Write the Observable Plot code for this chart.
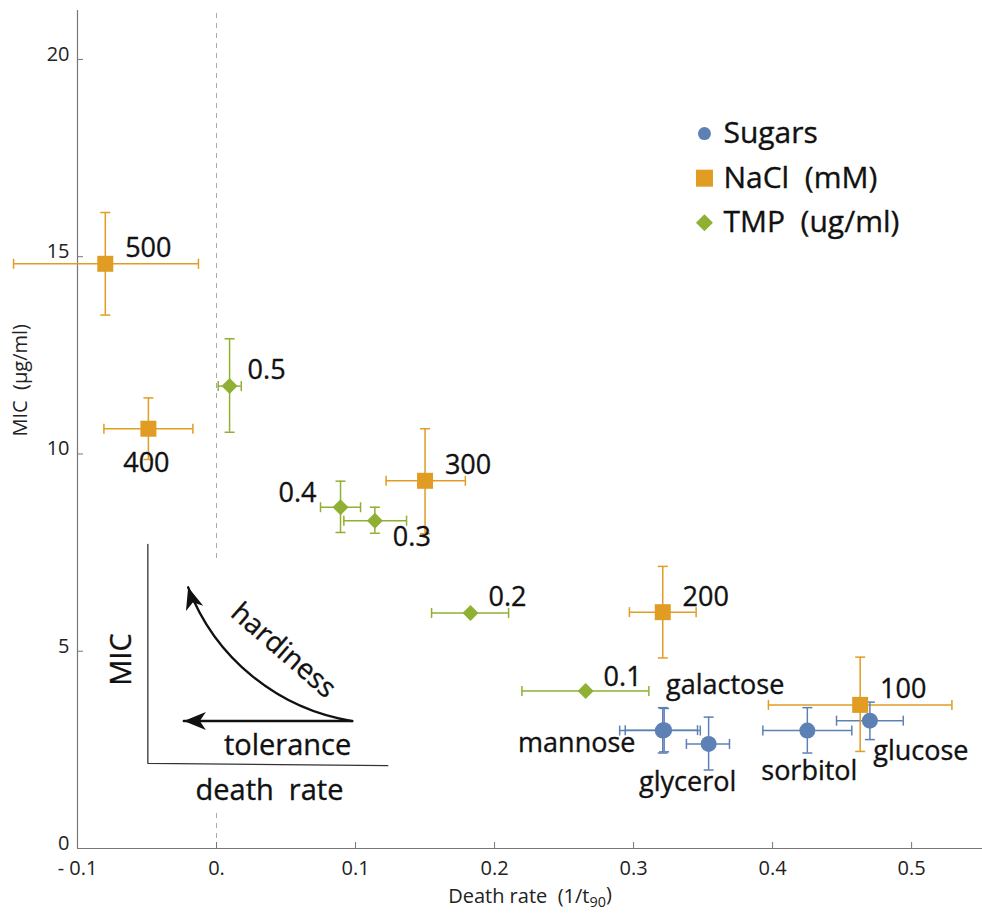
<!DOCTYPE html>
<html><head><meta charset="utf-8">
<script src="https://cdn.jsdelivr.net/npm/d3@7"></script>
<script src="https://cdn.jsdelivr.net/npm/@observablehq/plot@0.6"></script>
<style>
html,body{margin:0;padding:0;background:#fff;}
#chart svg{font-family:"Open Sans",sans-serif;}
</style></head><body><div id="chart"></div>
<script>
// ---------- data ----------
const seriesNames = ["Sugars", "NaCl\u00a0 (mM)", "TMP\u00a0 (ug/ml)"];
const seriesColors = ["#5E81B5", "#E19C24", "#8FB032"];

const sugarLabels = ["mannose", "galactose", "glycerol", "sorbitol", "glucose"];
const sugarRate   = [0.321, 0.322, 0.354, 0.425, 0.470];
const sugarMIC    = [2.99, 3.00, 2.65, 2.99, 3.24];
const sugarRateLo = [0.290, 0.294, 0.338, 0.393, 0.446];
const sugarRateHi = [0.348, 0.346, 0.369, 0.457, 0.494];
const sugarMICLo  = [2.42, 2.45, 1.99, 2.42, 2.76];
const sugarMICHi  = [3.57, 3.55, 3.33, 3.57, 3.71];

const naclLabels = ["500", "400", "300", "200", "100"];
const naclRate   = [-0.080, -0.049, 0.150, 0.321, 0.463];
const naclMIC    = [14.82, 10.64, 9.32, 5.99, 3.64];
const naclRateLo = [-0.146, -0.081, 0.122, 0.297, 0.397];
const naclRateHi = [-0.013, -0.017, 0.179, 0.345, 0.529];
const naclMICLo  = [13.52, 9.86, 7.98, 4.83, 2.46];
const naclMICHi  = [16.12, 11.42, 10.64, 7.15, 4.85];

const tmpLabels = ["0.5", "0.4", "0.3", "0.2", "0.1"];
const tmpRate   = [0.0094, 0.0892, 0.1139, 0.1827, 0.2655];
const tmpMIC    = [11.72, 8.65, 8.31, 5.97, 3.99];
const tmpRateLo = [0.0012, 0.0748, 0.0916, 0.1547, 0.2197];
const tmpRateHi = [0.0178, 0.1036, 0.1367, 0.2101, 0.311];
const tmpMICLo  = [10.55, 8.01, 7.99, 5.97, 3.99];
const tmpMICHi  = [12.92, 9.31, 8.65, 5.97, 3.99];

const xTicks = [-0.1, 0, 0.1, 0.2, 0.3, 0.4, 0.5];
const xTickLabels = ["- 0.1", "0.", "0.1", "0.2", "0.3", "0.4", "0.5"];
const yTicks = [0, 5, 10, 15, 20];
const yTickLabels = ["0", "5", "10", "15", "20"];

// ---------- layout / styling ----------
const W = 982, H = 917;
const mL = 77, mR = 0, mT = 10, mB = 69;
const xDomain = [-0.1, 0.551];
const yDomain = [0, 21.24];
const pxX = (xDomain[1] - xDomain[0]) / (W - mL - mR);
const pxY = (yDomain[1] - yDomain[0]) / (H - mT - mB);
const axisColor = "#777";
const ink = "#111";
const bold = {stroke: ink, strokeWidth: 0.35};

function rows(series, labels, rate, mic, rlo, rhi, mlo, mhi) {
  return labels.map((label, i) => ({series, label, x: rate[i], y: mic[i], xlo: rlo[i], xhi: rhi[i], ylo: mlo[i], yhi: mhi[i]}));
}
const data = [
  ...rows(seriesNames[0], sugarLabels, sugarRate, sugarMIC, sugarRateLo, sugarRateHi, sugarMICLo, sugarMICHi),
  ...rows(seriesNames[1], naclLabels, naclRate, naclMIC, naclRateLo, naclRateHi, naclMICLo, naclMICHi),
  ...rows(seriesNames[2], tmpLabels, tmpRate, tmpMIC, tmpRateLo, tmpRateHi, tmpMICLo, tmpMICHi)
];
const yErrData = data.filter(d => d.yhi > d.ylo);

// label offsets in pixels (placement only)
const labelOffsets = {
  "500": [43, -15], "400": [-2, 35], "300": [43, -15], "200": [43, -15], "100": [43, -16],
  "0.5": [37, -16], "0.4": [-43, -14], "0.3": [37, 17], "0.2": [37, -16], "0.1": [37, -14],
  "galactose": [61, -45], "mannose": [-86, 13], "glycerol": [-21, 38], "sorbitol": [2, 41], "glucose": [51, 31]
};

// symbols
const circleSym = {draw(ctx, size) { const r = Math.sqrt(size / Math.PI); ctx.moveTo(r, 0); ctx.arc(0, 0, r, 0, 2 * Math.PI); }};
const squareSym = {draw(ctx, size) { const r = Math.sqrt(size / Math.PI); ctx.rect(-r, -r, 2 * r, 2 * r); }};
const diamondSym = {draw(ctx, size) { const r = Math.sqrt(size / Math.PI); ctx.moveTo(0, -r); ctx.lineTo(r, 0); ctx.lineTo(0, r); ctx.lineTo(-r, 0); ctx.closePath(); }};
const seriesSymbols = [circleSym, squareSym, diamondSym];
const vCap = {draw(ctx) { ctx.moveTo(0, -5); ctx.lineTo(0, 5); }};
const hCap = {draw(ctx) { ctx.moveTo(-5, 0); ctx.lineTo(5, 0); }};
const headSym = {draw(ctx) { ctx.moveTo(0, 0); ctx.lineTo(9, 22); ctx.lineTo(0, 16); ctx.lineTo(-9, 22); ctx.closePath(); }};

// legend layout
const legendX = 0.351, legendTop = 18.12, legendStep = 1.13;
const legendData = seriesNames.map((s, i) => ({series: s, x: legendX, y: legendTop - i * legendStep}));
const legendR = [6.5, 8.5, 8.5];

// inset schematic (annotation, data coordinates)
const inset = {
  axisX: -0.0494, axisTop: 7.71, axisBottom: 2.16, axisRight: 0.1232, axisRightY: 2.10,
  start: [0.0976, 3.23], tolTip: [-0.0235, 3.23], hardTip: [-0.0204, 6.62],
  micLabel: [-0.0683, 4.79], hardLabel: [0.0482, 5.02], tolLabel: [0.0511, 2.61], deathLabel: [0.0381, 1.47],
  dashGapTop: 7.35, dashGapBottom: 1.0
};

const errStroke = 1.5;
const marks = [
  // zero dashed line (interrupted by the inset)
  Plot.ruleX([0], {y1: inset.dashGapTop, y2: yDomain[1], stroke: "#aaa", strokeDasharray: "5,5", strokeWidth: 1}),
  Plot.ruleX([0], {y1: 0, y2: inset.dashGapBottom, stroke: "#aaa", strokeDasharray: "5,5", strokeWidth: 1}),
  // axes lines, inward ticks and tick labels
  Plot.ruleY([0], {stroke: axisColor, strokeWidth: 1.2}),
  Plot.ruleX([xDomain[0]], {stroke: axisColor, strokeWidth: 1.2}),
  Plot.ruleX(xTicks, {x: d => d, y1: 0, y2: 6 * pxY, stroke: axisColor}),
  Plot.ruleY(yTicks, {y: d => d, x1: xDomain[0], x2: xDomain[0] + 6 * pxX, stroke: axisColor}),
  Plot.text(xTicks, {x: d => d, y: yDomain[0], dy: 20, text: (d, i) => xTickLabels[i], fontSize: 20, fill: "#222"}),
  Plot.text(yTicks, {x: xDomain[0], y: d => d, dx: -8, dy: -5, textAnchor: "end", text: (d, i) => yTickLabels[i], fontSize: 20, fill: "#222"}),
  Plot.text(["Death rate\u00a0 (1/t90)"], {frameAnchor: "bottom", dy: 54, fontSize: 20, fill: "#222", className: "xtitle"}),
  Plot.text(["MIC\u00a0 (\u03bcg/ml)"], {frameAnchor: "left", dx: -57, dy: 7, rotate: -90, fontSize: 20, fill: "#222"}),

  // inset schematic
  Plot.line([[inset.axisX, inset.axisTop], [inset.axisX, inset.axisBottom], [inset.axisRight, inset.axisRightY]], {stroke: "#333", strokeWidth: 1.3}),
  Plot.arrow([0], {x1: inset.start[0], y1: inset.start[1], x2: inset.tolTip[0], y2: inset.tolTip[1], stroke: ink, strokeWidth: 2.4, headLength: 0}),
  Plot.arrow([0], {x1: inset.start[0], y1: inset.start[1], x2: inset.hardTip[0], y2: inset.hardTip[1], bend: 30, stroke: ink, strokeWidth: 2.4, headLength: 0}),
  Plot.dot([0], {x: inset.tolTip[0], y: inset.tolTip[1], symbol: headSym, fill: ink, rotate: -90}),
  Plot.dot([0], {x: inset.hardTip[0], y: inset.hardTip[1], symbol: headSym, fill: ink, rotate: -17}),
  Plot.text(["MIC"], {x: inset.micLabel[0], y: inset.micLabel[1], rotate: -90, fontSize: 29, fill: ink, ...bold}),
  Plot.text(["hardiness"], {x: inset.hardLabel[0], y: inset.hardLabel[1], rotate: 41, fontSize: 28, fill: ink, ...bold}),
  Plot.text(["tolerance"], {x: inset.tolLabel[0], y: inset.tolLabel[1], fontSize: 29, fill: ink, ...bold}),
  Plot.text(["death\u00a0 rate"], {x: inset.deathLabel[0], y: inset.deathLabel[1], fontSize: 29, fill: ink, ...bold}),

  // error bars
  Plot.ruleY(data, {y: "y", x1: "xlo", x2: "xhi", stroke: "series", strokeWidth: errStroke}),
  Plot.ruleX(yErrData, {x: "x", y1: "ylo", y2: "yhi", stroke: "series", strokeWidth: errStroke}),
  Plot.dot(data, {x: "xlo", y: "y", symbol: vCap, stroke: "series", fill: "none", strokeWidth: errStroke}),
  Plot.dot(data, {x: "xhi", y: "y", symbol: vCap, stroke: "series", fill: "none", strokeWidth: errStroke}),
  Plot.dot(yErrData, {x: "x", y: "ylo", symbol: hCap, stroke: "series", fill: "none", strokeWidth: errStroke}),
  Plot.dot(yErrData, {x: "x", y: "yhi", symbol: hCap, stroke: "series", fill: "none", strokeWidth: errStroke}),
  // points
  Plot.dot(data, {x: "x", y: "y", symbol: "series", fill: "series", r: 8}),
  // point labels
  ...data.map(d => Plot.text([d], {x: "x", y: "y", text: "label", dx: labelOffsets[d.label][0], dy: labelOffsets[d.label][1], fontSize: 27, fill: ink, ...bold})),
  // legend
  ...legendData.map((d, i) => Plot.dot([d], {x: "x", y: "y", symbol: "series", fill: "series", r: legendR[i]})),
  Plot.text(legendData, {x: "x", y: "y", text: "series", dx: 19, textAnchor: "start", fontSize: 30, fill: ink, ...bold})
];

const chart = Plot.plot({
  width: W, height: H,
  marginLeft: mL, marginRight: mR, marginTop: mT, marginBottom: mB,
  x: {domain: xDomain, axis: null},
  y: {domain: yDomain, axis: null},
  color: {domain: seriesNames, range: seriesColors},
  symbol: {domain: seriesNames, range: seriesSymbols},
  style: {fontFamily: "'Open Sans', sans-serif", background: "#fff", overflow: "visible"},
  marks
});

// subscript for t90
const t = d3.select(chart).select("g.xtitle text");
t.text(null);
t.append("tspan").text("Death rate\u00a0 (1/t");
t.append("tspan").attr("font-size", "0.72em").attr("dy", "0.3em").text("90");
t.append("tspan").attr("dy", "-0.3em").text(")");

document.getElementById("chart").appendChild(chart);
</script>
</body></html>
